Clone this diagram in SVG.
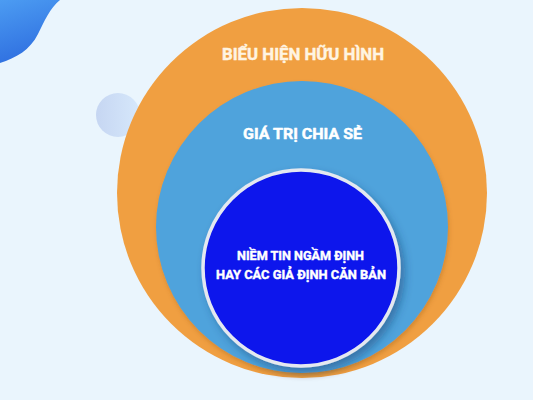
<svg xmlns="http://www.w3.org/2000/svg" width="533" height="400" viewBox="0 0 533 400">
<defs>
<linearGradient id="blob" x1="0" y1="0" x2="0.3" y2="1">
<stop offset="0" stop-color="#4C9CF2"/>
<stop offset="1" stop-color="#2F6FE0"/>
</linearGradient>
<linearGradient id="bubble" x1="0" y1="0" x2="1" y2="0">
<stop offset="0" stop-color="#C6D6F2"/>
<stop offset="1" stop-color="#D6E8FB"/>
</linearGradient>
<filter id="sh" x="-20%" y="-20%" width="150%" height="150%">
<feDropShadow dx="4" dy="5" stdDeviation="4" flood-color="#1A3C6A" flood-opacity="0.45"/>
</filter>
<filter id="sh2" x="-20%" y="-20%" width="150%" height="150%">
<feDropShadow dx="1" dy="3" stdDeviation="2" flood-color="#7A4A10" flood-opacity="0.25"/>
</filter>
<style>
.t{font-family:"Roboto","Liberation Sans",sans-serif;font-weight:bold;text-anchor:middle;stroke-width:0.45;stroke-linejoin:round}
</style>
</defs>
<rect width="533" height="400" fill="#EAF5FD"/>
<path d="M0 0 L60 0 C50 8 44 22 38 34 C30 50 16 58 0 63 Z" fill="url(#blob)"/>
<circle cx="118" cy="115" r="22" fill="url(#bubble)"/>
<g id="outer">
<circle cx="302" cy="193" r="185" fill="#F09F41"/>
<text class="t" x="303" y="60" font-size="17" fill="#FFF4E2" stroke="#FFF4E2" textLength="162" lengthAdjust="spacingAndGlyphs">BIỂU HIỆN HỮU HÌNH</text>
</g>
<g id="middle">
<circle cx="302" cy="227" r="146" fill="#4FA3DC" filter="url(#sh2)"/>
<text class="t" x="302.5" y="139" font-size="14" fill="#FFFFFF" stroke="#FFFFFF" textLength="119" lengthAdjust="spacingAndGlyphs">GIÁ TRỊ CHIA SẺ</text>
</g>
<g id="inner">
<circle cx="301" cy="268" r="98" fill="#0A16EC" stroke="#E4E8F0" stroke-width="3.5" filter="url(#sh)"/>
<text class="t" x="300.5" y="260" font-size="13" fill="#FFFFFF" stroke="#FFFFFF" textLength="127" lengthAdjust="spacingAndGlyphs">NIỀM TIN NGẦM ĐỊNH</text>
<text class="t" x="301" y="279" font-size="13" fill="#FFFFFF" stroke="#FFFFFF" textLength="170" lengthAdjust="spacingAndGlyphs">HAY CÁC GIẢ ĐỊNH CĂN BẢN</text>
</g>
<g id="connectors"/>
</svg>
